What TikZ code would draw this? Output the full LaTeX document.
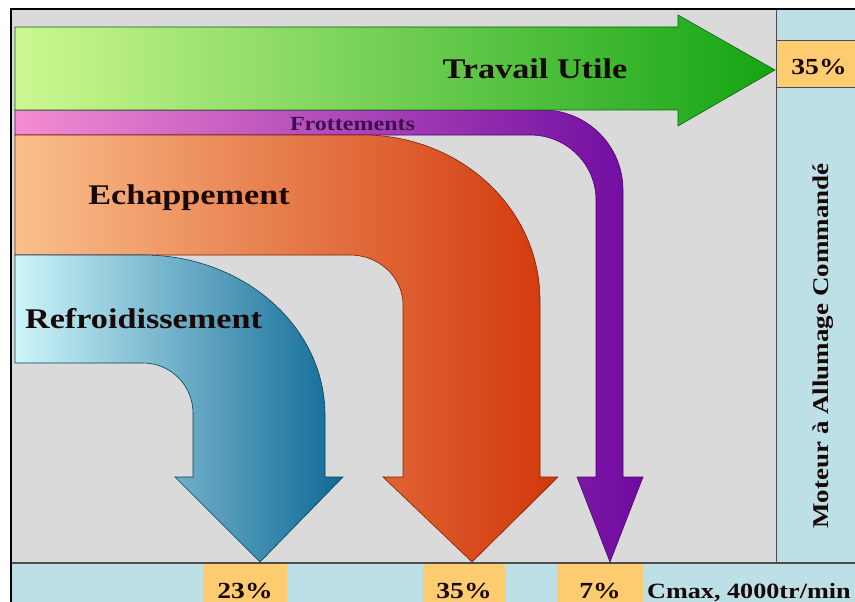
\documentclass[tikz,border=0pt]{standalone}
\usepackage{fontspec}
\setmainfont[FakeStretch=1.2]{Liberation Serif}
\definecolor{bggray}{RGB}{218,218,218}
\definecolor{panel}{RGB}{188,224,229}
\definecolor{cellor}{RGB}{253,204,112}
\definecolor{txt}{RGB}{24,8,8}
\definecolor{frotxt}{RGB}{60,16,80}
\definecolor{gL}{RGB}{205,248,145}
\definecolor{gR}{RGB}{20,165,20}
\definecolor{pL}{RGB}{245,140,210}
\definecolor{pR}{RGB}{110,10,160}
\definecolor{oL}{RGB}{250,192,140}
\definecolor{oR}{RGB}{210,55,10}
\definecolor{bL}{RGB}{205,245,250}
\definecolor{bR}{RGB}{15,105,150}
\tikzset{
  flow/.style={line width=0.6pt},
  lbl/.style={font=\bfseries\fontsize{28.5}{28.5}\selectfont, text=txt, inner sep=0pt, anchor=base},
  pct/.style={font=\bfseries\fontsize{23}{23}\selectfont, text=txt, inner sep=0pt, anchor=base},
  cell/.style={fill=cellor, draw=none},
  rule/.style={draw=black!70, line width=1pt}
}
\begin{document}
\begin{tikzpicture}[x=1pt,y=-1pt]
\useasboundingbox (0,0) rectangle (855,602);
\clip (0,0) rectangle (855,602);
% background areas
\fill[white] (0,0) rectangle (855,602);
\fill[bggray] (11,9) rectangle (776,563);
\fill[panel] (776,9) rectangle (860,563);
\fill[panel] (11,563) rectangle (860,610);
% cells
\fill[cell] (776,41) rectangle (860,88);
\fill[cell] (203,563) rectangle (287,610);
\fill[cell] (423,563) rectangle (505,610);
\fill[cell] (557,563) rectangle (643,610);
\draw[rule] (776,9) -- (776,563);
\draw[rule] (776,41) -- (860,41);
\draw[rule] (776,88) -- (860,88);
\draw[rule, line width=1.5pt] (11,563) -- (860,563);
% frame
\draw[black, line width=2pt] (11,610) -- (11,9) -- (860,9);
% flows
\path[flow, draw=pR!70!black, left color=pL, right color=pR]
  (15,110) -- (543,110) .. controls (587.2,110) and (623,145.8) .. (623,190)
  -- (623,477) -- (643,477) -- (610,562) -- (577,477) -- (596,477)
  -- (596,200) .. controls (596,164.1) and (566.5,135) .. (530,135)
  -- (15,135) -- cycle;
\path[flow, draw=oR!60!black, left color=oL, right color=oR]
  (15,135) -- (363,135) .. controls (460.8,135) and (540,208.9) .. (540,300)
  -- (540,477) -- (558,477) -- (472,562) -- (383,477) -- (403,477)
  -- (403,305) .. controls (403,277.4) and (379.3,255) .. (350,255)
  -- (15,255) -- cycle;
\path[flow, draw=bR!60!black, left color=bL, right color=bR]
  (15,255) -- (143,255) .. controls (243.5,255) and (325,326.6) .. (325,415)
  -- (325,477) -- (343,477) -- (260,562) -- (175,477) -- (193,477)
  -- (193,413) .. controls (193,385.4) and (170.6,363) .. (143,363)
  -- (15,363) -- cycle;
\path[flow, draw=gR!60!black, left color=gL, right color=gR]
  (15,27) -- (678,27) -- (678,15) -- (775,70) -- (678,126) -- (678,110)
  -- (15,110) -- cycle;
% labels
\node[lbl] (travail) at (535,78) {Travail Utile};
\node[lbl] (echap) at (189,204) {Echappement};
\node[lbl] (refroid) at (143.5,328) {Refroidissement};
\node[lbl, text=frotxt, font=\bfseries\fontsize{20}{20}\selectfont] (frott) at (352.5,130) {Frottements};
\node[pct] (p35r) at (819,75) {35\%};
\node[pct] (p23) at (245,598) {23\%};
\node[pct] (p35b) at (464,598) {35\%};
\node[pct] (p7) at (600,598) {7\%};
\node[pct, font=\bfseries\fontsize{21.8}{21.8}\selectfont, anchor=base west] (cmax) at (647,598) {Cmax, 4000tr/min};
\node[pct, font=\bfseries\fontsize{22.5}{22.5}\selectfont, rotate=90] (moteur) at (828,346) {Moteur à Allumage Commandé};
\end{tikzpicture}
\end{document}
